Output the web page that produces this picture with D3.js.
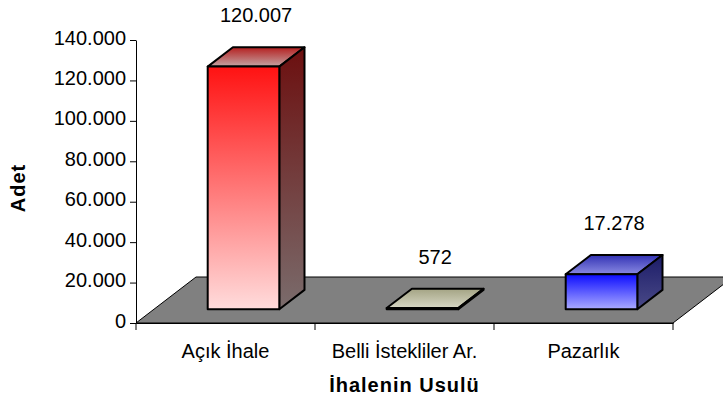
<!DOCTYPE html>
<html lang="tr">
<head>
    <meta charset="utf-8">
    <title>İhalenin Usulü</title>
    <script src="https://cdn.jsdelivr.net/npm/d3@7"></script>
    <style>
        body { margin: 0; background: #fff; }
        text { font-family: Arial, "Liberation Sans", sans-serif; fill: #000; }
    </style>
</head>

<body>

<div id="chart"></div>

<script type="text/javascript">
// data
var categories = ["Açık İhale", "Belli İstekliler Ar.", "Pazarlık"];
var values = [120007, 572, 17278];
var yTicks = [0, 20000, 40000, 60000, 80000, 100000, 120000, 140000];

// face colours per bar: [front top, front bottom, side top, side bottom, top back, top front]
var faceColors = [
    ["#ff1212", "#ffdcdc", "#6c0f0f", "#7a6c6c", "#b52020", "#c4a4a4"],
    ["#6a6a48", "#8a8a68", "#55553a", "#66664a", "#a4a484", "#d6d6c4"],
    ["#0c0cff", "#ababff", "#1c1c68", "#4a4a88", "#3232b4", "#8a8ae2"]
];

var width = 723, height = 401;
var plot = { left: 136, right: 673, top: 40, bottom: 323 };
var floorDx = 60, floorDy = -46;
var frontDepth = 0.3, backDepth = 0.72;

var trLocale = d3.formatLocale({ decimal: ",", thousands: ".", grouping: [3], currency: ["", " TL"] });
var fmt = trLocale.format(",d");

var svg = d3.select("#chart")
            .append("svg")
            .attr("width", width)
            .attr("height", height);

var x = d3.scaleBand()
          .domain(categories)
          .range([plot.left, plot.right]);

var y = d3.scaleLinear()
          .domain([0, 140000])
          .range([plot.bottom, plot.top]);

// floor
var fx0 = plot.left, fx1 = plot.right, fy = y(0);
svg.append("path")
   .attr("d", "M" + fx0 + "," + fy + "L" + fx1 + "," + fy +
              "L" + (fx1 + floorDx) + "," + (fy + floorDy) +
              "L" + (fx0 + floorDx) + "," + (fy + floorDy) + "Z")
   .attr("fill", "#808080")
   .attr("stroke", "#000")
   .attr("stroke-width", 1);

// gradients
var defs = svg.append("defs");
faceColors.forEach(function(c, i) {
    [["front", c[0], c[1]], ["side", c[2], c[3]], ["top", c[4], c[5]]].forEach(function(f) {
        var g = defs.append("linearGradient")
                    .attr("id", "g" + f[0] + i)
                    .attr("x1", 0).attr("y1", 0)
                    .attr("x2", 0).attr("y2", 1);
        g.append("stop").attr("offset", "0%").attr("stop-color", f[1]);
        g.append("stop").attr("offset", "100%").attr("stop-color", f[2]);
    });
});

// bars
var ox = floorDx * frontDepth, oy = floorDy * frontDepth;
var dx = floorDx * (backDepth - frontDepth), dy = floorDy * (backDepth - frontDepth);
var barW = x.bandwidth() * 0.4;

var bars = svg.append("g")
    .attr("class", "bars")
    .selectAll("g")
    .data(values)
    .enter().append("g");

function geom(d, i) {
    var cx = x(categories[i]) + x.bandwidth() / 2 + ox;
    return { x0: cx - barW / 2, x1: cx + barW / 2, yt: y(d) + oy, yb: y(0) + oy };
}

function pts(arr) {
    return arr.map(function(p) { return p.join(","); }).join(" ");
}

bars.append("polygon")
    .attr("points", function(d, i) {
        var b = geom(d, i);
        return pts([[b.x0, b.yt], [b.x0 + dx, b.yt + dy], [b.x1 + dx, b.yt + dy], [b.x1, b.yt]]);
    })
    .attr("fill", function(d, i) { return "url(#gtop" + i + ")"; });

bars.append("polygon")
    .attr("points", function(d, i) {
        var b = geom(d, i);
        return pts([[b.x1, b.yt], [b.x1 + dx, b.yt + dy], [b.x1 + dx, b.yb + dy], [b.x1, b.yb]]);
    })
    .attr("fill", function(d, i) { return "url(#gside" + i + ")"; });

bars.append("rect")
    .attr("x", function(d, i) { return geom(d, i).x0; })
    .attr("y", function(d, i) { return geom(d, i).yt; })
    .attr("width", barW)
    .attr("height", function(d, i) { var b = geom(d, i); return Math.max(b.yb - b.yt, 0.5); })
    .attr("fill", function(d, i) { return "url(#gfront" + i + ")"; });

bars.selectAll("polygon, rect")
    .attr("stroke", "#000")
    .attr("stroke-width", 2)
    .attr("stroke-linejoin", "round");

// value labels
bars.append("text")
    .attr("x", function(d, i) { var b = geom(d, i); return (b.x0 + b.x1) / 2 + dx / 2; })
    .attr("y", function(d, i) { return geom(d, i).yt + dy - 25; })
    .attr("text-anchor", "middle")
    .style("font-size", "20px")
    .text(function(d) { return fmt(d); });

// y axis
var yAxis = svg.append("g")
    .attr("transform", "translate(" + plot.left + ",0)")
    .call(d3.axisLeft(y)
            .tickValues(yTicks)
            .tickFormat(fmt)
            .tickSize(6)
            .tickSizeOuter(0)
            .tickPadding(4));
yAxis.selectAll("text")
     .attr("dy", "0.2em")
     .style("font-size", "20px")
     .style("font-family", "Arial, 'Liberation Sans', sans-serif");

// x axis
var xAxis = svg.append("g")
    .attr("transform", "translate(0," + y(0) + ")")
    .call(d3.axisBottom(x)
            .tickSize(0)
            .tickSizeOuter(0)
            .tickPadding(21));
xAxis.selectAll("text")
     .style("font-size", "20px")
     .style("font-family", "Arial, 'Liberation Sans', sans-serif");

xAxis.selectAll("line.sep")
     .data(categories.map(function(c) { return x(c); }).concat([plot.right]))
     .enter().append("line")
     .attr("class", "sep")
     .attr("x1", function(d) { return d; })
     .attr("x2", function(d) { return d; })
     .attr("y1", 0)
     .attr("y2", 7)
     .attr("stroke", "#000");

svg.selectAll(".domain").attr("stroke", "#000");

// axis titles
svg.append("text")
   .attr("transform", "translate(25,188) rotate(-90)")
   .attr("text-anchor", "middle")
   .style("font-size", "20px")
   .style("font-weight", "bold")
   .style("letter-spacing", "1px")
   .text("Adet");

svg.append("text")
   .attr("x", x(categories[1]) + x.bandwidth() / 2)
   .attr("y", 392)
   .attr("text-anchor", "middle")
   .style("font-size", "20px")
   .style("font-weight", "bold")
   .style("letter-spacing", "1px")
   .text("İhalenin Usulü");
</script>

</body>
</html>
